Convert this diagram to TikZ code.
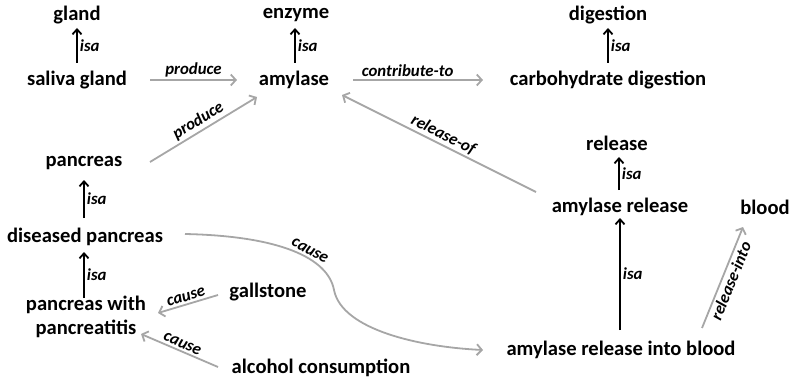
\documentclass[tikz,border=0pt]{standalone}
\usepackage{fontspec}
\setmainfont{Carlito}
\usetikzlibrary{arrows.meta}
\definecolor{linkgray}{RGB}{166,166,166}
\begin{document}
\begin{tikzpicture}[x=1pt,y=-1pt,
  concept/.style={font=\bfseries\fontsize{20.6}{24}\selectfont, inner sep=0pt, align=center},
  rel/.style={font=\bfseries\itshape\fontsize{16.8}{18}\selectfont, inner sep=2pt},
  isaarrow/.style={draw=black, line width=1.8pt, -{Straight Barb[length=5pt,width=9pt]}},
  linkarrow/.style={draw=linkgray, line width=1.8pt, -{Straight Barb[length=5pt,width=11pt]}}
]
\useasboundingbox (0,0) rectangle (791,382);

% concepts
\node[concept] (gland)        at (77,15)  {gland};
\node[concept] (saliva)       at (77,80)  {saliva gland};
\node[concept] (enzyme)       at (296,15) {enzyme};
\node[concept] (amylase)      at (294,80) {amylase};
\node[concept] (digestion)    at (608,15) {digestion};
\node[concept] (carbo)        at (608,80) {carbohydrate digestion};
\node[concept] (release)      at (617,143) {release};
\node[concept] (amyrel)       at (620,207) {amylase release};
\node[concept] (blood)        at (765,207) {blood};
\node[concept] (pancreas)     at (84,163) {pancreas};
\node[concept] (diseased)     at (85,237) {diseased pancreas};
\node[concept] (pancreatitis) at (86,317) {pancreas with\\pancreatitis};
\node[concept] (gallstone)    at (268,292) {gallstone};
\node[concept] (alcohol)      at (321,368) {alcohol consumption};
\node[concept] (intoblood)    at (621,350) {amylase release into blood};

% isa links
\draw[isaarrow] ([shift={(0,-17)}]saliva.center) -- node[rel,right]{isa} ([shift={(0,13)}]gland.center);
\draw[isaarrow] ([shift={(1,-17)}]amylase.center) -- node[rel,right]{isa} ([shift={(-1,13)}]enzyme.center);
\draw[isaarrow] ([shift={(0,-17)}]carbo.center) -- node[rel,right]{isa} ([shift={(0,13)}]digestion.center);
\draw[isaarrow] ([shift={(-1,-17)}]amyrel.center) -- node[rel,right]{isa} ([shift={(2,14)}]release.center);
\draw[isaarrow] ([shift={(-1,-20)}]intoblood.center) -- node[rel,right]{isa} ([shift={(0,11)}]amyrel.center);
\draw[isaarrow] ([shift={(-1,-19)}]diseased.center) -- node[rel,right]{isa} ([shift={(0,17)}]pancreas.center);
\draw[isaarrow] ([shift={(-2,-19)}]pancreatitis.center) -- node[rel,right]{isa} ([shift={(-1,15)}]diseased.center);

% other relations
\draw[linkarrow] ([shift={(73,0)}]saliva.center) -- node[rel,above]{produce} ([shift={(-57,0)}]amylase.center);
\draw[linkarrow] ([shift={(66,-1)}]pancreas.center) -- node[rel,above,sloped]{produce} ([shift={(-37,17)}]amylase.center);
\draw[linkarrow] ([shift={(59,0)}]amylase.center) -- node[rel,above,pos=0.42]{contribute-to} ([shift={(-125,0)}]carbo.center);
\draw[linkarrow] ([shift={(-84,-15)}]amyrel.center) -- node[rel,above,sloped]{release-of} ([shift={(48,15)}]amylase.center);
\draw[linkarrow] ([shift={(100,-3)}]diseased.center)
  .. controls (280,236) and (328,258) .. node[rel,above,sloped,pos=0.6]{cause} (334,290)
  .. controls (342,330) and (420,347) .. ([shift={(-138,0)}]intoblood.center);
\draw[linkarrow] ([shift={(-50,3)}]gallstone.center) -- node[rel,above,sloped]{cause} ([shift={(72,-4)}]pancreatitis.center);
\draw[linkarrow] ([shift={(-103,-1)}]alcohol.center) -- node[rel,above,sloped]{cause} ([shift={(55,17)}]pancreatitis.center);
\draw[linkarrow] ([shift={(81,-22)}]intoblood.center) -- node[rel,below,sloped]{release-into} ([shift={(-22,20)}]blood.center);
\end{tikzpicture}
\end{document}
